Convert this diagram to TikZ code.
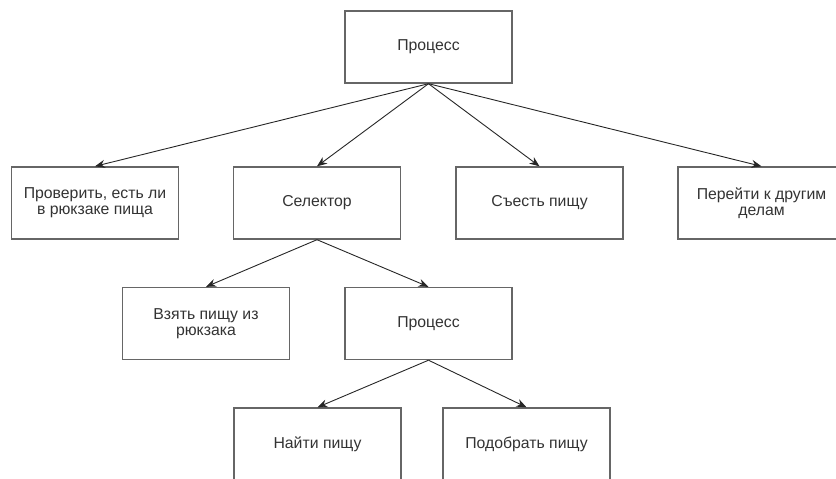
\documentclass[tikz,border=0pt]{standalone}
\usepackage{fontspec}
\setmainfont{Liberation Sans}
\usepackage{tikz}
\usetikzlibrary{positioning, arrows.meta}
\definecolor{boxline}{HTML}{666666}
\definecolor{txt}{HTML}{333333}

\begin{document}
\begin{tikzpicture}[x=1pt, y=1pt,
  task/.style={draw=boxline, line width=1.4pt, minimum width=167pt, minimum height=72pt,
    inner sep=2pt, align=center, text=txt, font=\fontsize{15.8}{16}\selectfont},
  link/.style={-{Stealth[length=10pt,width=8pt]}, line width=0.9pt, draw=black!85}]
\clip (0,0) rectangle (836,-479);

% root process
\node[task] (proc) at (428.5,-47) {Процесс};

% first level
\node[task] (check) at (95,-203) {Проверить, есть ли\\в рюкзаке пища};
\node[task] (sel) at (317,-203) {Селектор};
\node[task] (eat) at (539.5,-203) {Съесть пищу};
\node[task] (other) at (761.5,-203) {Перейти к другим\\делам};

% selector children
\node[task] (take) at (206,-323.5) {Взять пищу из\\рюкзака};
\node[task] (sub) at (428.5,-323.5) {Процесс};

% sub-process children
\node[task] (find) at (317.5,-444) {Найти пищу};
\node[task] (pick) at (526.5,-444) {Подобрать пищу};

\draw[link] (proc.south) -- (check.north);
\draw[link] (proc.south) -- (sel.north);
\draw[link] (proc.south) -- (eat.north);
\draw[link] (proc.south) -- (other.north);
\draw[link] (sel.south) -- (take.north);
\draw[link] (sel.south) -- (sub.north);
\draw[link] (sub.south) -- (find.north);
\draw[link] (sub.south) -- (pick.north);
\end{tikzpicture}
\end{document}
